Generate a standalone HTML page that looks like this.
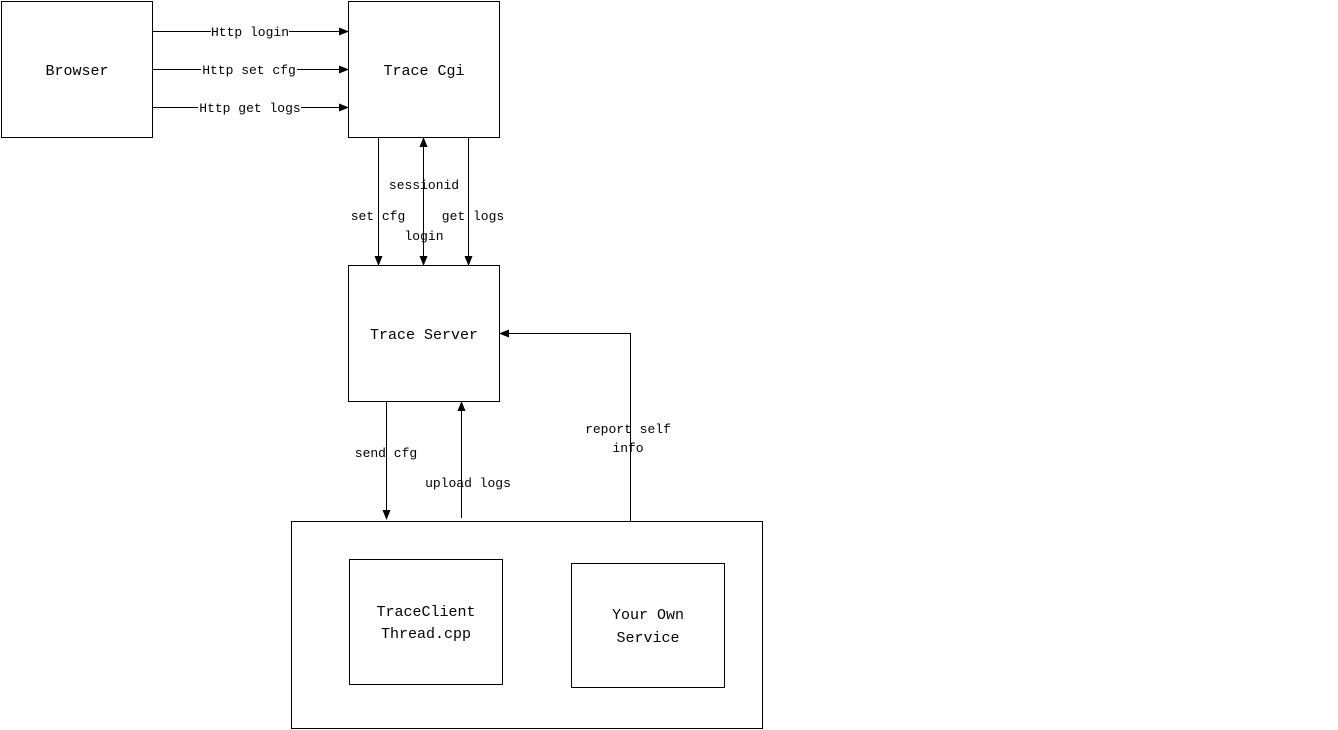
<!DOCTYPE html>
<html><head><style>
html,body{margin:0;padding:0;background:#fff;}
svg{display:block}
text{font-family:"Liberation Mono","DejaVu Sans Mono",monospace;fill:#000}
.s{font-size:13px}
.t{font-size:15px}
</style></head><body>
<svg width="1338" height="730" viewBox="0 0 1338 730" xmlns="http://www.w3.org/2000/svg">
<defs>
<marker id="a" markerWidth="10" markerHeight="8" refX="9" refY="4" orient="auto" markerUnits="userSpaceOnUse">
<path d="M0,0 L10,4 L0,8 z" fill="#000"/></marker>
<marker id="b" markerWidth="10" markerHeight="8" refX="1" refY="4" orient="auto" markerUnits="userSpaceOnUse">
<path d="M10,0 L0,4 L10,8 z" fill="#000"/></marker>
</defs>
<g fill="none" stroke="#000" stroke-width="1">
<rect x="1.5" y="1.5" width="151" height="136"/>
<rect x="348.5" y="1.5" width="151" height="136"/>
<rect x="348.5" y="265.5" width="151" height="136"/>
<rect x="291.5" y="521.5" width="471" height="207"/>
<rect x="349.5" y="559.5" width="153" height="125"/>
<rect x="571.5" y="563.5" width="153" height="124"/>
<line x1="152" y1="31.5" x2="348" y2="31.5" marker-end="url(#a)"/>
<line x1="152" y1="69.5" x2="348" y2="69.5" marker-end="url(#a)"/>
<line x1="152" y1="107.5" x2="348" y2="107.5" marker-end="url(#a)"/>
<line x1="378.5" y1="138" x2="378.5" y2="265" marker-end="url(#a)"/>
<line x1="423.5" y1="138" x2="423.5" y2="265" marker-end="url(#a)" marker-start="url(#b)"/>
<line x1="468.5" y1="138" x2="468.5" y2="265" marker-end="url(#a)"/>
<line x1="386.5" y1="402" x2="386.5" y2="519" marker-end="url(#a)"/>
<line x1="461.5" y1="518" x2="461.5" y2="402" marker-end="url(#a)"/>
<polyline points="630.5,521 630.5,333.5 500,333.5" marker-end="url(#a)"/>
</g>
<g fill="#fff">
<rect x="211" y="23" width="78" height="16"/>
<rect x="201" y="61" width="96" height="16"/>
<rect x="198" y="99" width="103" height="16"/>
</g>
<g class="s" text-anchor="middle">
<text x="250" y="36">Http login</text>
<text x="249" y="74">Http set cfg</text>
<text x="250" y="112">Http get logs</text>
<text x="424" y="189">sessionid</text>
<text x="378" y="220">set cfg</text>
<text x="473" y="220">get logs</text>
<text x="424" y="240">login</text>
<text x="386" y="457">send cfg</text>
<text x="468" y="487">upload logs</text>
<text x="628" y="433">report self</text>
<text x="628" y="452">info</text>
</g>
<g class="t" text-anchor="middle">
<text x="77" y="75">Browser</text>
<text x="424" y="75">Trace Cgi</text>
<text x="424" y="339">Trace Server</text>
<text x="426" y="616">TraceClient</text>
<text x="426" y="638">Thread.cpp</text>
<text x="648" y="619">Your Own</text>
<text x="648" y="642">Service</text>
</g>
</svg>
</body></html>
